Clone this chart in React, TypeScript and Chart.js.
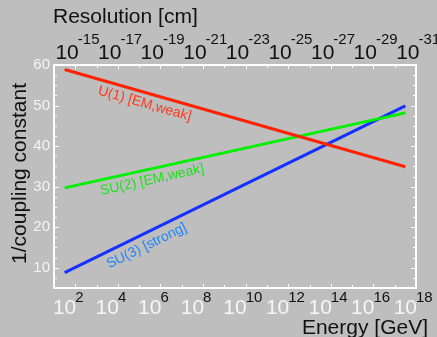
import React, { useEffect, useRef } from "react";
import { Chart, registerables } from "chart.js";

Chart.register(...registerables);

// ---- data ----
const energyLogGeV = [1.5, 17.5];
const u1Values = [58.9, 34.9];
const su2Values = [29.7, 48.2];
const su3Values = [8.8, 49.9];
const seriesNames = ["U(1) [EM,weak]", "SU(2) [EM,weak]", "SU(3) [strong]"];
const energyTickExps = ["2", "4", "6", "8", "10", "12", "14", "16", "18"];
const resolutionTickExps = ["-15", "-17", "-19", "-21", "-23", "-25", "-27", "-29", "-31"];
const yTickValues = [10, 20, 30, 40, 50, 60];

const FONT = '"Liberation Sans", Arial, sans-serif';
const lineColors = ["#ff2200", "#00f000", "#1630ff"];
const textColors = ["#ff3a1a", "#1ee01e", "#1e88ff"];
const labelAnchors = [5.4, 5.5, 5.1];
const labelOffsets = [11, 11, 12];

const decorPlugin = {
  id: "decor",
  beforeDatasetsDraw(chart: any) {
    const ctx = chart.ctx as CanvasRenderingContext2D;
    const { left, right, top, bottom } = chart.chartArea;
    const xs = chart.scales.x;
    const ys = chart.scales.y;
    ctx.save();
    ctx.strokeStyle = "#ffffff";
    ctx.lineWidth = 2;
    ctx.strokeRect(left, top, right - left, bottom - top);
    ctx.lineWidth = 1;
    // x ticks (each decade)
    for (let d = Math.ceil(xs.min); d <= xs.max; d++) {
      const px = Math.round(xs.getPixelForValue(d)) + 0.5;
      const len = d % 2 === 0 ? 4 : 3;
      ctx.beginPath();
      ctx.moveTo(px, bottom);
      ctx.lineTo(px, bottom - len);
      ctx.moveTo(px, top);
      ctx.lineTo(px, top + len);
      ctx.stroke();
    }
    // y ticks
    for (let v = 7.5; v <= ys.max; v += 2.5) {
      const py = Math.round(ys.getPixelForValue(v)) + 0.5;
      const len = v % 10 === 0 ? 5 : 3;
      ctx.beginPath();
      ctx.moveTo(left, py);
      ctx.lineTo(left + len, py);
      ctx.moveTo(right, py);
      ctx.lineTo(right - len, py);
      ctx.stroke();
    }
    // bottom labels
    ctx.textBaseline = "alphabetic";
    energyTickExps.forEach((e) => {
      const px = xs.getPixelForValue(Number(e));
      ctx.font = `21px ${FONT}`;
      ctx.fillStyle = "#f6f6f6";
      ctx.textAlign = "right";
      ctx.fillText("10", px + 1, 314);
      ctx.font = `15px ${FONT}`;
      ctx.fillStyle = "#111111";
      ctx.textAlign = "left";
      ctx.fillText(e, px, 302);
    });
    // top labels
    resolutionTickExps.forEach((e, i) => {
      const px = xs.getPixelForValue(Number(energyTickExps[i]));
      ctx.font = `21px ${FONT}`;
      ctx.fillStyle = "#111111";
      ctx.textAlign = "right";
      ctx.fillText("10", px + 3.5, 59);
      ctx.font = `15px ${FONT}`;
      ctx.textAlign = "left";
      ctx.fillText(e, px + 2.5, 44);
    });
    // titles
    ctx.font = `21px ${FONT}`;
    ctx.fillStyle = "#111111";
    ctx.textAlign = "left";
    ctx.fillText("Resolution [cm]", left - 1, 23);
    ctx.textAlign = "right";
    ctx.fillText("Energy [GeV]", 428, 334);
    ctx.save();
    ctx.translate(26, (top + bottom) / 2 - 3);
    ctx.rotate(-Math.PI / 2);
    ctx.textAlign = "center";
    ctx.fillText("1/coupling constant", 0, 0);
    ctx.restore();
    ctx.restore();
  },
  afterDatasetsDraw(chart: any) {
    const ctx = chart.ctx as CanvasRenderingContext2D;
    const xs = chart.scales.x;
    const ys = chart.scales.y;
    const all = [u1Values, su2Values, su3Values];
    ctx.save();
    ctx.font = `14px ${FONT}`;
    ctx.textAlign = "center";
    ctx.textBaseline = "middle";
    all.forEach((vals, i) => {
      const x0 = xs.getPixelForValue(energyLogGeV[0]);
      const x1 = xs.getPixelForValue(energyLogGeV[1]);
      const y0 = ys.getPixelForValue(vals[0]);
      const y1 = ys.getPixelForValue(vals[1]);
      const ang = Math.atan2(y1 - y0, x1 - x0);
      const a = labelAnchors[i];
      const t = (a - energyLogGeV[0]) / (energyLogGeV[1] - energyLogGeV[0]);
      const v = vals[0] + t * (vals[1] - vals[0]);
      const px = xs.getPixelForValue(a);
      const py = ys.getPixelForValue(v);
      ctx.save();
      ctx.translate(px, py);
      ctx.rotate(ang);
      ctx.fillStyle = textColors[i];
      ctx.fillText(seriesNames[i], 0, labelOffsets[i]);
      ctx.restore();
    });
    ctx.restore();
  },
};

export default function App() {
  const ref = useRef<HTMLCanvasElement | null>(null);
  useEffect(() => {
    if (!ref.current) return;
    const mk = (vals: number[]) => energyLogGeV.map((x, i) => ({ x, y: vals[i] }));
    const chart = new Chart(ref.current, {
      type: "line",
      data: {
        datasets: [u1Values, su2Values, su3Values].map((vals, i) => ({
          label: seriesNames[i],
          data: mk(vals),
          borderColor: lineColors[i],
          borderWidth: 3,
          pointRadius: 0,
          fill: false,
        })),
      },
      options: {
        animation: false,
        responsive: false,
        devicePixelRatio: 1,
        layout: { padding: { left: 0, top: 65, right: 21, bottom: 49 } },
        plugins: { legend: { display: false }, tooltip: { enabled: false } },
        scales: {
          x: { type: "linear", min: 1, max: 18, display: false },
          y: {
            type: "linear",
            min: 5,
            max: 60,
            grid: { display: false, drawTicks: false },
            border: { display: false },
            afterBuildTicks: (s: any) => {
              s.ticks = yTickValues.map((v) => ({ value: v }));
            },
            afterFit: (s: any) => {
              s.width = 54;
            },
            ticks: {
              color: "#f4f4f4",
              font: { size: 15, family: FONT },
              padding: 4,
              callback: (v: any) => String(v),
            },
          },
        },
      },
      plugins: [decorPlugin],
    });
    return () => chart.destroy();
  }, []);
  return (
    <div style={{ position: "fixed", left: 0, top: 0, width: 437, height: 337, background: "#bebebe" }}>
      <canvas ref={ref} width={437} height={337} />
    </div>
  );
}
